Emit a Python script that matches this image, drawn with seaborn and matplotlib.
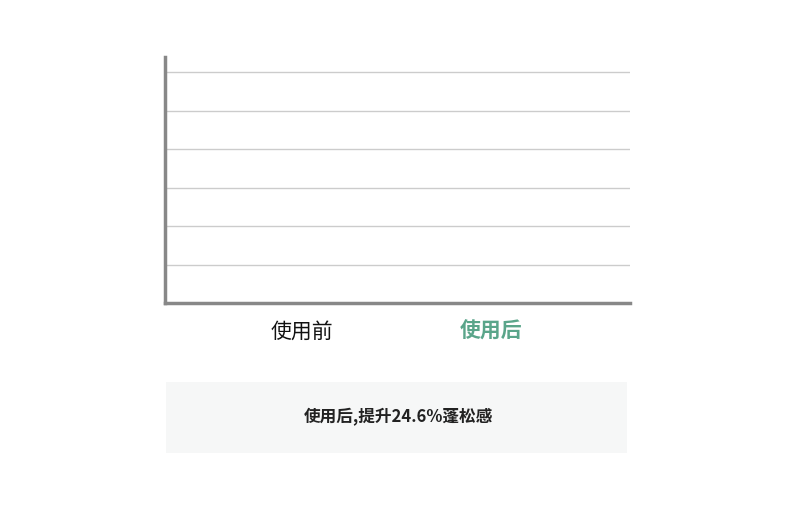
import matplotlib
matplotlib.use("Agg")
import matplotlib.pyplot as plt
import seaborn as sns
import pandas as pd
from matplotlib.patches import Rectangle

categories = ["使用前", "使用后"]
values = [0, 0]
label_colors = ["#111111", "#5aa58a"]
summary_text = "使用后,提升24.6%蓬松感"

sns.set_theme(style="white")
plt.rcParams['font.family'] = ['Noto Sans CJK SC', 'DejaVu Sans']

fig = plt.figure(figsize=(7.9, 5.09), dpi=100)
ax = fig.add_axes([165/790, 1-303/509, (630-165)/790, (303-57)/509])

df = pd.DataFrame({"cat": categories, "val": values})
sns.barplot(data=df, x="cat", y="val", ax=ax, color="#5aa58a", width=0.4)

ax.set_ylim(0, 6.4)
ax.set_xlim(-0.725, 1.735)
ax.set_yticks(range(0, 7))
ax.set_yticklabels([])
ax.yaxis.grid(True, color="#cccccc", linewidth=1)
ax.set_axisbelow(True)
ax.tick_params(axis="y", length=0)
ax.tick_params(axis="x", length=0, pad=13, labelsize=15)
ax.set_xlabel("")
ax.set_ylabel("")
for lbl, c in zip(ax.get_xticklabels(), label_colors):
    lbl.set_color(c)
    if c != "#111111":
        lbl.set_fontweight("bold")

for s in ["top", "right"]:
    ax.spines[s].set_visible(False)
for s in ["left", "bottom"]:
    ax.spines[s].set_color("#888888")
    ax.spines[s].set_linewidth(2.5)

fig.patches.append(Rectangle((166/790, 1-453/509), (627-166)/790, 71/509,
                             transform=fig.transFigure, facecolor="#f6f7f7",
                             edgecolor="none", zorder=0))
fig.text(398/790, 1-417/509, summary_text, ha="center", va="center",
         fontsize=12, fontweight="bold", color="#222222")

fig.savefig("out.png", dpi=100)
